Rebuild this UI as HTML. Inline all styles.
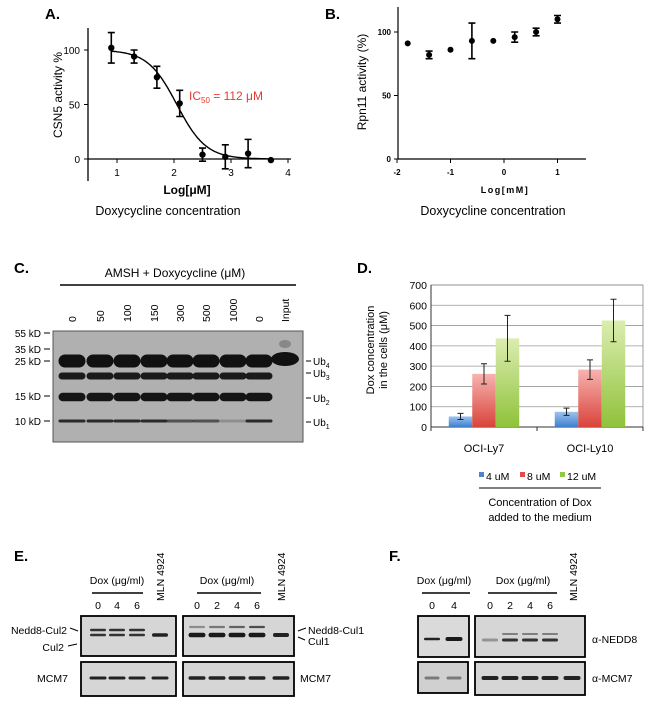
<!DOCTYPE html>
<html><head><meta charset="utf-8"><style>
body{margin:0;background:#fff}
svg{display:block;font-family:"Liberation Sans",sans-serif}
</style></head><body>
<svg id="fig" width="650" height="722" viewBox="0 0 650 722" xmlns="http://www.w3.org/2000/svg">
<defs>
<linearGradient id="gBlue" x1="0" y1="0" x2="0" y2="1"><stop offset="0" stop-color="#9cc3ee"/><stop offset="1" stop-color="#3f7fcf"/></linearGradient>
<linearGradient id="gRed" x1="0" y1="0" x2="0" y2="1"><stop offset="0" stop-color="#f7b3b0"/><stop offset="1" stop-color="#d9433b"/></linearGradient>
<linearGradient id="gGreen" x1="0" y1="0" x2="0" y2="1"><stop offset="0" stop-color="#dcedb0"/><stop offset="1" stop-color="#8fc23a"/></linearGradient>
</defs>
<text x="45" y="19" font-size="15" font-weight="bold">A.</text>
<text x="325" y="19" font-size="15" font-weight="bold">B.</text>
<text x="14" y="273" font-size="15" font-weight="bold">C.</text>
<text x="357" y="273" font-size="15" font-weight="bold">D.</text>
<text x="14" y="561" font-size="15" font-weight="bold">E.</text>
<text x="389" y="561" font-size="15" font-weight="bold">F.</text>

<g id="panelA"></g>
<g id="panelB"></g>
<g id="panelC"></g>
<g id="panelD"></g>
<g id="panelE"></g>
<g id="panelF"></g>
</svg>
<script>
// ---- Panel A data ----
const aLogConc = [0.9, 1.3, 1.7, 2.1, 2.5, 2.9, 3.3, 3.7];
const aActivity = [102, 94, 75, 51, 4, 2, 5, -1];
const aError = [14, 6, 10, 12, 6, 11, 13, 0];
const aXTicks = [1, 2, 3, 4];
const aYTicks = [0, 50, 100];
// ---- Panel B data ----
const bLogConc = [-1.8, -1.4, -1.0, -0.6, -0.2, 0.2, 0.6, 1.0];
const bActivity = [91, 82, 86, 93, 93, 96, 100, 110];
const bError = [0, 3, 0, 14, 0, 4, 3, 3];
const bXTicks = [-2, -1, 0, 1];
const bYTicks = [0, 50, 100];
// ---- Panel D data ----
const dCategories = ["OCI-Ly7", "OCI-Ly10"];
const dSeriesNames = ["4 uM", "8 uM", "12 uM"];
const dLy7 = [52, 262, 437];
const dLy7Err = [15, 50, 113];
const dLy10 = [75, 283, 525];
const dLy10Err = [18, 48, 105];
const dYTicks = [0, 100, 200, 300, 400, 500, 600, 700];
// ---- Panel C labels ----
const cLanes = ["0","50","100","150","300","500","1000","0","Input"];
const cSizes = ["55 kD","35 kD","25 kD","15 kD","10 kD"];

const NS = "http://www.w3.org/2000/svg";
function mk(parent, tag, attrs, txt){
  const e = document.createElementNS(NS, tag);
  for (const k in attrs) e.setAttribute(k, attrs[k]);
  if (txt !== undefined) e.textContent = txt;
  parent.appendChild(e);
  return e;
}

// ================= Panel A =================
(function(){
  const g = document.getElementById('panelA');
  const x = v => 117 + (v - 1) * 57;
  const y = v => 159 - v * 1.09;
  let e;
  e = mk(g,'line',{x1:88,y1:28,x2:88,y2:181,stroke:'#000','stroke-width':1.3});
   
  e = mk(g,'line',{x1:88,y1:159,x2:291,y2:159,stroke:'#000','stroke-width':1.3});
   
  aYTicks.forEach(t=>{
    mk(g,'line',{x1:84,y1:y(t),x2:88,y2:y(t),stroke:'#000'});
    e = mk(g,'text',{x:80,y:y(t)+4,'font-size':10,'text-anchor':'end'},t);
     
  });
  aXTicks.forEach(t=>{
    mk(g,'line',{x1:x(t),y1:159,x2:x(t),y2:163,stroke:'#000'});
    e = mk(g,'text',{x:x(t),y:176,'font-size':10,'text-anchor':'middle'},t);
     
  });
  e = mk(g,'text',{x:187,y:194,'font-size':12,'font-weight':'bold','text-anchor':'middle'},'Log[μM]');
   
  e = mk(g,'text',{x:168,y:215,'font-size':12.5,'text-anchor':'middle'},'Doxycycline  concentration');
   
  e = mk(g,'text',{x:0,y:0,'font-size':12,'text-anchor':'middle',transform:'translate(62,95) rotate(-90)'},'CSN5 activity %');
   
  let d='';
  for(let v=aLogConc[0]; v<=aLogConc[aLogConc.length-1]+0.001; v+=0.02){
    const yy = 100/(1+Math.pow(10,(v-2.05)*1.7));
    d += (d?'L':'M') + x(v).toFixed(1)+','+y(yy).toFixed(1);
  }
  e = mk(g,'path',{d:d,fill:'none',stroke:'#000','stroke-width':1.4});
   
  aLogConc.forEach((v,i)=>{
    const cx=x(v), cy=y(aActivity[i]), er=aError[i];
    if(er>0){
      mk(g,'path',{d:`M${cx},${y(aActivity[i]+er)}V${y(aActivity[i]-er)}M${cx-3.5},${y(aActivity[i]+er)}h7M${cx-3.5},${y(aActivity[i]-er)}h7`,stroke:'#000','stroke-width':1.6,fill:'none'});
    }
    e = mk(g,'circle',{cx:cx,cy:cy,r:3.2,fill:'#000'});
     
  });
  e = mk(g,'text',{x:189,y:100,'font-size':12,fill:'#e8392f'});
   
  e.innerHTML = 'IC<tspan font-size="8" dy="3">50</tspan><tspan dy="-3"> = 112 μM</tspan>';
})();

// ================= Panel B =================
(function(){
  const g = document.getElementById('panelB');
  const x = v => 504 + v * 53.5;
  const y = v => 159 - v * 1.27;
  let e;
  e = mk(g,'line',{x1:398,y1:7,x2:398,y2:159,stroke:'#000','stroke-width':1.2});
   
  e = mk(g,'line',{x1:398,y1:159,x2:586,y2:159,stroke:'#000','stroke-width':1.2});
   
  bYTicks.forEach(t=>{
    mk(g,'line',{x1:394,y1:y(t),x2:398,y2:y(t),stroke:'#000'});
    e = mk(g,'text',{x:391,y:y(t)+3,'font-size':8,'font-weight':'bold','text-anchor':'end'},t);
     
  });
  bXTicks.forEach(t=>{
    mk(g,'line',{x1:x(t),y1:159,x2:x(t),y2:163,stroke:'#000'});
    e = mk(g,'text',{x:x(t),y:175,'font-size':8,'font-weight':'bold','text-anchor':'middle'},t);
     
  });
  e = mk(g,'text',{x:505,y:193,'font-size':9,'font-weight':'bold','text-anchor':'middle','letter-spacing':'1.5'},'Log[mM]');
   
  e = mk(g,'text',{x:493,y:215,'font-size':12.5,'text-anchor':'middle'},'Doxycycline concentration');
   
  e = mk(g,'text',{x:0,y:0,'font-size':12,'text-anchor':'middle',transform:'translate(366,82) rotate(-90)'},'Rpn11 activity (%)');
   
  bLogConc.forEach((v,i)=>{
    const cx=x(v), er=bError[i];
    if(er>0){
      mk(g,'path',{d:`M${cx},${y(bActivity[i]+er)}V${y(bActivity[i]-er)}M${cx-3.5},${y(bActivity[i]+er)}h7M${cx-3.5},${y(bActivity[i]-er)}h7`,stroke:'#000','stroke-width':1.6,fill:'none'});
    }
    e = mk(g,'circle',{cx:cx,cy:y(bActivity[i]),r:3,fill:'#000'});
     
  });
})();

// ================= Panel C (blot) =================
(function(){
  const g = document.getElementById('panelC');
  let e;
  e = mk(g,'text',{x:175,y:277,'font-size':12,'text-anchor':'middle'},'AMSH + Doxycycline (μM)');
   
  mk(g,'line',{x1:60,y1:285,x2:296,y2:285,stroke:'#000','stroke-width':1.6});
  const laneX=[72,100,127,154,180,206,233,259,285];
  cLanes.forEach((l,i)=>{
    e = mk(g,'text',{x:0,y:0,'font-size':10.5,transform:`translate(${laneX[i]+4},322) rotate(-90)`},l);
     
  });
  e = mk(g,'rect',{x:53,y:331,width:250,height:111,fill:'#b0b0b0',stroke:'#555','stroke-width':1});
   
  const sizeY=[333,349,361,396,421];
  cSizes.forEach((s,i)=>{
    e = mk(g,'text',{x:41,y:sizeY[i]+4,'font-size':10,'text-anchor':'end'},s);
     
    mk(g,'line',{x1:44,y1:sizeY[i],x2:50,y2:sizeY[i],stroke:'#000'});
  });
  const bands=[[361,13,'#111'],[376,7,'#1a1a1a'],[397,8.5,'#151515'],[421,3,'#2a2a2a']];
  for(let i=0;i<8;i++){
    bands.forEach((b,j)=>{
      let op = 1; if(j==3 && (i==4||i==5)) op=0.7; if(j==3&&i==6) op=0.25;
      e = mk(g,'rect',{x:laneX[i]-13.5,y:b[0]-b[1]/2,width:27,height:b[1],rx:b[1]/2,fill:b[2],opacity:op});
       
    });
  }
  mk(g,'ellipse',{cx:285,cy:359,rx:14,ry:7,fill:'#111'});
  mk(g,'ellipse',{cx:285,cy:344,rx:6,ry:4,fill:'#888'});
  const ub=[[361,'4'],[373,'3'],[398,'2'],[422,'1']];
  ub.forEach(u=>{
    mk(g,'line',{x1:306,y1:u[0],x2:311,y2:u[0],stroke:'#000'});
    e = mk(g,'text',{x:313,y:u[0]+4,'font-size':10});
     
    e.innerHTML='Ub<tspan font-size="7" dy="3">'+u[1]+'</tspan>';
  });
})();

// ================= Panel D =================
(function(){
  const g = document.getElementById('panelD');
  const L=431,R=643,T=285,B=427;
  const y = v => B - v*(B-T)/700;
  const catX = i => L + (R-L)*(i+0.5)/dCategories.length;
  const fills=['url(#gBlue)','url(#gRed)','url(#gGreen)'];
  const solids=['#4a86d0','#e0504a','#94c748'];
  let e;
  dYTicks.forEach(t=>{
    e = mk(g,'line',{x1:L,y1:y(t),x2:R,y2:y(t),stroke:'#999','stroke-width':0.8});
     
    e = mk(g,'text',{x:L-4,y:y(t)+4,'font-size':10.5,'text-anchor':'end'},t);
     
  });
  mk(g,'rect',{x:L,y:T,width:R-L,height:B-T,fill:'none',stroke:'#888','stroke-width':0.8});
  mk(g,'line',{x1:L,y1:B,x2:R,y2:B,stroke:'#333','stroke-width':1});
  mk(g,'line',{x1:L,y1:T,x2:L,y2:B,stroke:'#333','stroke-width':1});
  [L,(L+R)/2,R].forEach(xx=>mk(g,'line',{x1:xx,y1:B,x2:xx,y2:B+4,stroke:'#333'}));
  const vals=[dLy7,dLy10], errs=[dLy7Err,dLy10Err];
  const bw=23.5;
  dCategories.forEach((c,i)=>{
    const cx=catX(i);
    vals[i].forEach((v,j)=>{
      const bx=cx-bw*1.5+j*bw;
      e = mk(g,'rect',{x:bx,y:y(v),width:bw,height:B-y(v),fill:fills[j]});
       
      const ex=bx+bw/2, er=errs[i][j];
      mk(g,'path',{d:`M${ex},${y(v+er)}V${y(v-er)}M${ex-3},${y(v+er)}h6M${ex-3},${y(v-er)}h6`,stroke:'#222','stroke-width':1,fill:'none'});
    });
    e = mk(g,'text',{x:cx,y:452,'font-size':11,'text-anchor':'middle'},c);
     
  });
  e = mk(g,'text',{x:0,y:0,'font-size':11,'text-anchor':'middle',transform:'translate(374,350) rotate(-90)'},'Dox concentration');
   
  e = mk(g,'text',{x:0,y:0,'font-size':11,'text-anchor':'middle',transform:'translate(387,350) rotate(-90)'},'in the cells (μM)');
   
  const lx=[479,520,560];
  dSeriesNames.forEach((s,j)=>{
    e = mk(g,'rect',{x:lx[j],y:472,width:5,height:5,fill:solids[j]});
     
    e = mk(g,'text',{x:lx[j]+7,y:480,'font-size':10.5},s);
     
  });
  mk(g,'line',{x1:479,y1:488,x2:601,y2:488,stroke:'#000','stroke-width':1});
  e = mk(g,'text',{x:540,y:506,'font-size':11,'text-anchor':'middle'},'Concentration of Dox');
   
  e = mk(g,'text',{x:540,y:521,'font-size':11,'text-anchor':'middle'},'added to the medium');
   
})();

// ================= Panels E & F (blots) =================
function header(g, cx, x1, x2, prefix){
  let e = mk(g,'text',{x:cx,y:584,'font-size':10.5,'text-anchor':'middle'},'Dox (μg/ml)');
   
  mk(g,'line',{x1:x1,y1:593,x2:x2,y2:593,stroke:'#000','stroke-width':1.6});
}
function nums(g, xs, labs, prefix){
  xs.forEach((xx,i)=>{
    const e = mk(g,'text',{x:xx,y:609,'font-size':10.5,'text-anchor':'middle'},labs[i]);
     
  });
}
function mln(g, xx, prefix){
  const e = mk(g,'text',{x:0,y:0,'font-size':10.5,transform:`translate(${xx+4},601) rotate(-90)`},'MLN 4924');
   
}
function box(g,x,y,w,h,name,fill){
  const e = mk(g,'rect',{x:x,y:y,width:w,height:h,fill:fill||'#d6d6d6',stroke:'#000','stroke-width':1.8});
   
}
function band(g,cx,cy,w,h,col,op){
  const e = mk(g,'rect',{x:cx-w/2,y:cy-h/2,width:w,height:h,rx:h/2,fill:col,opacity:op===undefined?1:op});
   
}
(function(){
  const g=document.getElementById('panelE');
  header(g,117,92,143,'e-left'); header(g,227,197,261,'e-right');
  nums(g,[98,117,137],['0','4','6'],'e-left'); nums(g,[197,217,237,257],['0','2','4','6'],'e-right');
  mln(g,160,'e-left'); mln(g,281,'e-right');
  box(g,81,616,95,40,'e-left-cul2-blot'); box(g,81,662,95,34,'e-left-mcm7-blot');
  box(g,183,616,111,40,'e-right-cul1-blot'); box(g,183,662,111,34,'e-right-mcm7-blot');
  [98,117,137].forEach(x=>{band(g,x,630,16,2.5,'#333');band(g,x,635,16,2.5,'#333');});
  band(g,160,635,16,3.5,'#222');
  [197,217,237,257].forEach((x,i)=>{band(g,x,627,16,2.2,'#444',0.5+i*0.15);band(g,x,635,17,4.5,'#1a1a1a');});
  band(g,281,635,16,4,'#222');
  [98,117,137,160].forEach(x=>band(g,x,678,17,3,'#222'));
  [197,217,237,257,281].forEach(x=>band(g,x,678,17,3.5,'#222'));
  let e;
  e=mk(g,'text',{x:67,y:634,'font-size':10.5,'text-anchor':'end'},'Nedd8-Cul2');
  mk(g,'line',{x1:70,y1:628,x2:78,y2:631,stroke:'#000'});
  e=mk(g,'text',{x:64,y:651,'font-size':10.5,'text-anchor':'end'},'Cul2');
  mk(g,'line',{x1:68,y1:646,x2:77,y2:644,stroke:'#000'});
  e=mk(g,'text',{x:37,y:682,'font-size':10.5},'MCM7');
  e=mk(g,'text',{x:308,y:634,'font-size':10.5},'Nedd8-Cul1');
  mk(g,'line',{x1:298,y1:631,x2:306,y2:628,stroke:'#000'});
  e=mk(g,'text',{x:308,y:645,'font-size':10.5},'Cul1');
  mk(g,'line',{x1:298,y1:637,x2:305,y2:640,stroke:'#000'});
  e=mk(g,'text',{x:300,y:682,'font-size':10.5},'MCM7');
})();
(function(){
  const g=document.getElementById('panelF');
  header(g,444,422,470,'f-left'); header(g,523,488,557,'f-right');
  nums(g,[432,454],['0','4'],'f-left'); nums(g,[490,510,530,550],['0','2','4','6'],'f-right');
  mln(g,573,'f');
  box(g,418,616,51,41,'f-left-nedd8-blot','#dadada'); box(g,418,662,50,31,'f-left-mcm7-blot','#d0d0d0');
  box(g,475,616,110,41,'f-right-nedd8-blot'); box(g,475,662,110,33,'f-right-mcm7-blot');
  band(g,432,639,16,2.5,'#222'); band(g,454,639,17,4,'#1a1a1a');
  [490,510,530,550].forEach((x,i)=>{ if(i>0) band(g,x,634,16,2,'#444',0.6); band(g,x,640,16,3,'#333',i==0?0.4:1);});
  band(g,432,678,15,3,'#555',0.7); band(g,454,678,15,3,'#555',0.7);
  [490,510,530,550,572].forEach(x=>band(g,x,678,17,4,'#222'));
  let e;
  e=mk(g,'text',{x:592,y:643,'font-size':10.5},'α-NEDD8');
  e=mk(g,'text',{x:592,y:682,'font-size':10.5},'α-MCM7');
})();
</script>
</body></html>
